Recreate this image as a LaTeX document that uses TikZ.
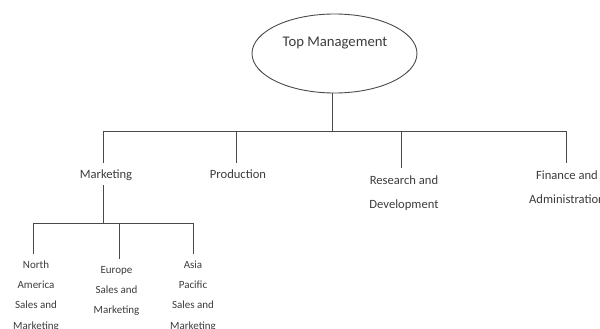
\documentclass[tikz,border=0pt]{standalone}
\usepackage{fontspec}
\setmainfont{Carlito}
\usetikzlibrary{shapes.geometric}
\definecolor{linec}{HTML}{4A4A4A}
\definecolor{textc}{HTML}{3C3C3C}
\tikzset{
  conn/.style={draw=linec, line width=0.9pt},
  toplabel/.style={text=textc, inner sep=0pt, font=\fontsize{14.7}{17}\selectfont},
  unit/.style={text=textc, inner sep=0pt, anchor=base, align=center,
    font=\fontsize{12.6}{23.5}\selectfont},
  subunit/.style={text=textc, inner sep=0pt, anchor=base, align=center,
    font=\fontsize{11}{20.2}\selectfont},
}
\begin{document}
\begin{tikzpicture}[x=1pt, y=-1pt]
  \useasboundingbox (0,0) rectangle (600,329);
  \clip (0,0) rectangle (600,329);

  % head of the organisation
  \node[draw=linec, line width=0.9pt, ellipse, minimum width=165pt, minimum height=79pt, inner sep=0pt]
    (top) at (334.5,53.5) {};
  \node[toplabel, anchor=base] (toptext) at (335,46.5) {Top Management};

  % departments (base anchor sits on the last line)
  \node[unit] (mkt) at (106,178.5) {Marketing};
  \node[unit] (prod) at (238,178.5) {Production};
  \node[unit] (rnd) at (404,208) {Research and\\Development};
  \node[unit] (fin) at (567,203) {Finance and\\Administration};

  % regional marketing units
  \node[subunit] (na) at (36,329.1) {North\\America\\Sales and\\Marketing};
  \node[subunit] (eu) at (116.5,313.9) {Europe\\Sales and\\Marketing};
  \node[subunit] (ap) at (193,329.1) {Asia\\Pacific\\Sales and\\Marketing};

  % first level bus
  \coordinate (hub) at (332,131);
  \coordinate (mktT) at (103,131);
  \coordinate (prodT) at (236,131);
  \coordinate (rndT) at (401,131);
  \coordinate (finT) at (566,131);
  \coordinate (mktE) at (103,163);
  \coordinate (prodE) at (236,163);
  \coordinate (rndE) at (401,168);
  \coordinate (finE) at (566,163);

  \draw[conn] (top.south -| hub) -- (hub);
  \draw[conn] (mktE) -- (mktT) -- (finT) -- (finE);
  \draw[conn] (prodT) -- (prodE);
  \draw[conn] (rndT) -- (rndE);

  % second level bus under Marketing
  \coordinate (mktS) at (103,185);
  \coordinate (mktH) at (103,223);
  \coordinate (naT) at (33,223);
  \coordinate (euT) at (119,223);
  \coordinate (apT) at (193,223);
  \coordinate (naE) at (33,254);
  \coordinate (euE) at (119,259);
  \coordinate (apE) at (193,254);

  \draw[conn] (mktS) -- (mktH);
  \draw[conn] (naE) -- (naT) -- (apT) -- (apE);
  \draw[conn] (euT) -- (euE);
\end{tikzpicture}
\end{document}
